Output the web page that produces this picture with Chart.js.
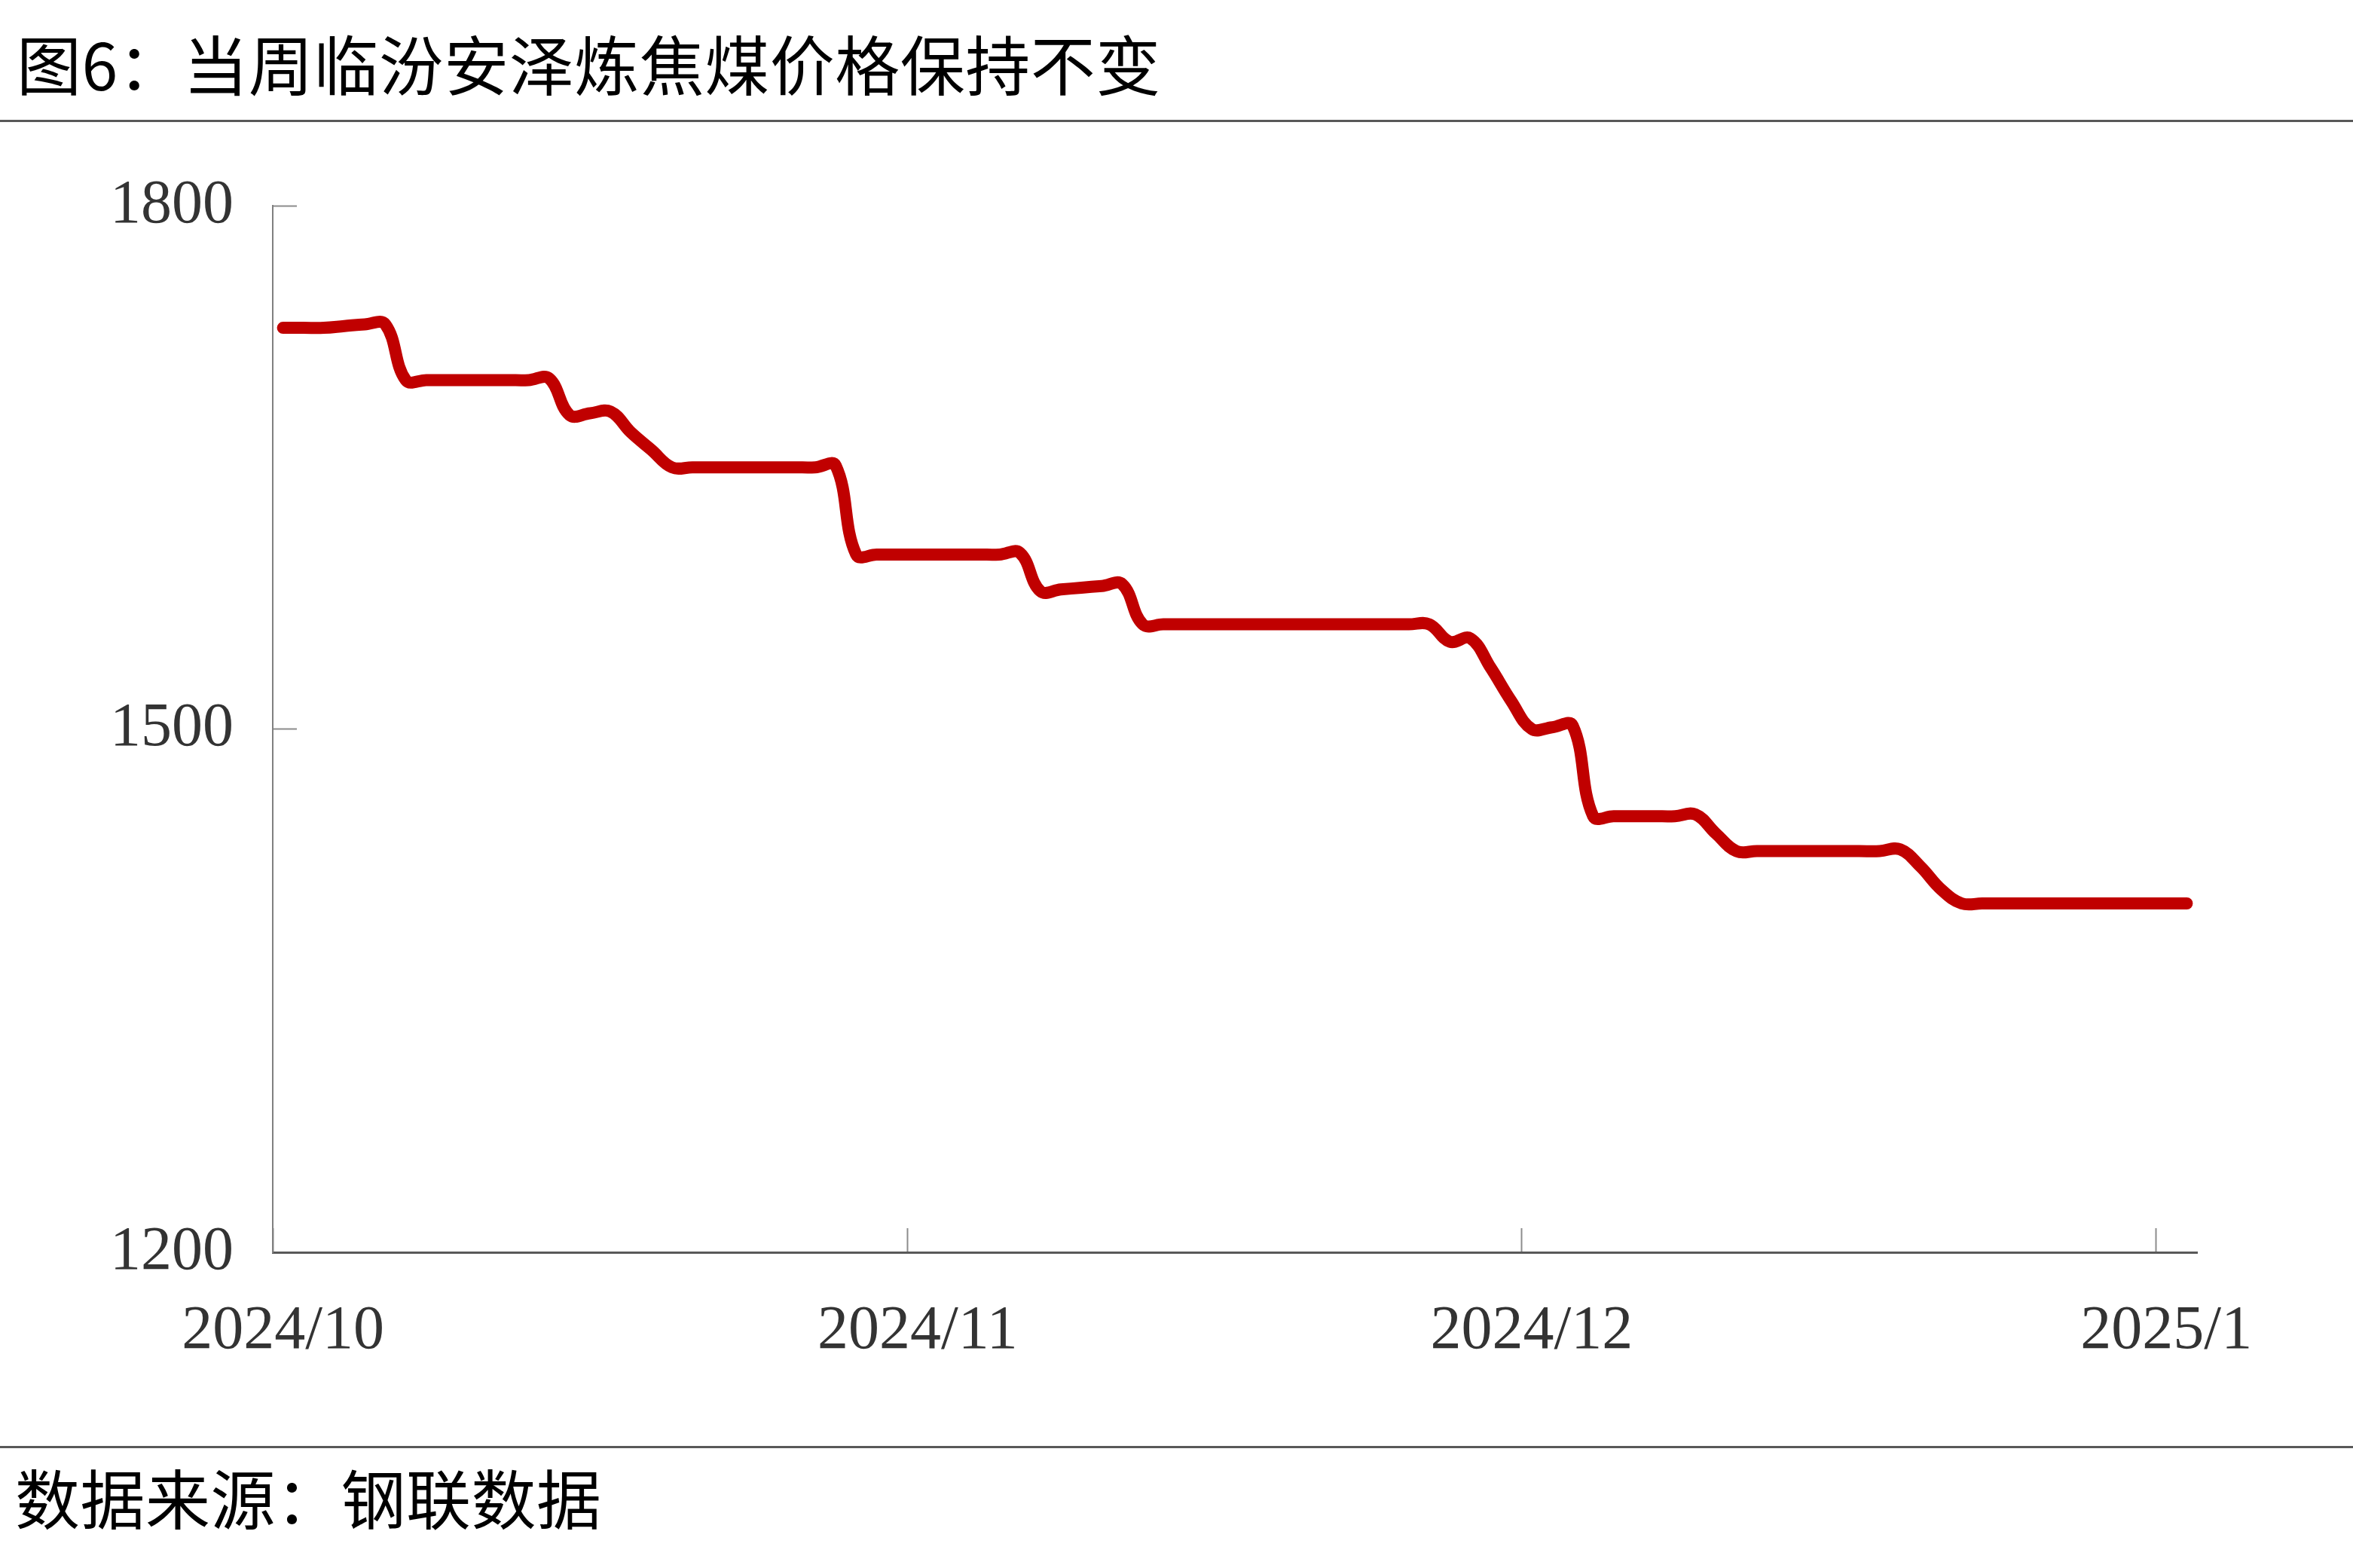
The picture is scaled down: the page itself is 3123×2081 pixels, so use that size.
<!DOCTYPE html>
<html lang="zh-CN">
<head>
<meta charset="utf-8">
<title>图6：当周临汾安泽炼焦煤价格保持不变</title>
<script src="https://cdn.jsdelivr.net/npm/chart.js@4.4.1/dist/chart.umd.min.js"></script>
<style>
  html, body { margin: 0; padding: 0; background: #fff; }
  body { width: 3123px; height: 2081px; position: relative; overflow: hidden; }
  .cjk { font-family: 'Noto Sans CJK SC', sans-serif; color: #000; white-space: nowrap; position: absolute; }
  #title  { left: 22px; top: 40px; font-size: 86px; line-height: 86px; letter-spacing: 0.5px; }
  #source { left: 20px; top: 1943px; font-size: 86px; line-height: 86px; letter-spacing: 0.5px; }
  .rule { position: absolute; left: 0; width: 3123px; height: 3px; background: #595959; }
  #wrap { position: absolute; left: 0; top: 0; width: 3123px; height: 2081px; }
</style>
</head>
<body>
<div id="title" class="cjk">图6：当周临汾安泽炼焦煤价格保持不变</div>
<div class="rule" style="top:159px"></div>
<div id="wrap"><canvas id="chart"></canvas></div>
<div class="rule" style="top:1919px"></div>
<div id="source" class="cjk">数据来源：钢联数据</div>

<script>
// ── DATA ──────────────────────────────────────────────────────────
// Daily price (元/吨), 2024/10/1 onwards
const prices = [
  1730, 1730, 1730, 1731, 1732, 1732,                 // 10/1 - 10/6
  1700, 1700, 1700, 1700, 1700, 1700, 1700, 1701,     // 10/7 - 10/14
  1680, 1681, 1682, 1670, 1660,                       // 10/15 - 10/19
  1650, 1650, 1650, 1650, 1650, 1650, 1650, 1650, 1651,
  1600, 1600, 1600, 1600, 1600, 1600, 1600, 1600, 1601,
  1579, 1580, 1581, 1582, 1583,
  1560, 1560, 1560, 1560, 1560, 1560, 1560, 1560,
  1560, 1560, 1560, 1560, 1560, 1560, 1560,
  1550, 1552, 1535, 1516,
  1500, 1501, 1502,                                   // 12/1 - 12/3
  1450, 1450, 1450, 1450, 1450, 1451,
  1440,
  1430, 1430, 1430, 1430, 1430, 1430, 1430, 1430, 1431,
  1421, 1408,
  1400, 1400, 1400, 1400, 1400, 1400, 1400, 1400, 1400, 1400, 1400, 1400
];

// one category per day, starting 2024/10/1
const dates = prices.map((_, i) => {
  const d = new Date(Date.UTC(2024, 9, 1 + i));
  return `${d.getUTCFullYear()}/${d.getUTCMonth() + 1}/${d.getUTCDate()}`;
});

const tickLabels = ['2024/10', '2024/11', '2024/12', '2025/1'];
const yTicks     = [1200, 1500, 1800];

// ── HELPERS ───────────────────────────────────────────────────────
const monthOf = s => s.split('/').slice(0, 2).join('/');
const isMonthStart = i => {
  const s = dates[i];
  return !!s && s.endsWith('/1') && tickLabels.includes(monthOf(s));
};

const serif    = "'Liberation Serif', 'Times New Roman', serif";
const tickGrey = '#8c8c8c';

// ── CHART ─────────────────────────────────────────────────────────
new Chart(document.getElementById('chart'), {
  type: 'line',
  data: {
    labels: dates,
    datasets: [{
      label:           '临汾安泽炼焦煤',
      data:            prices,
      borderColor:     '#C00000',
      borderWidth:     16,
      borderCapStyle:  'round',
      borderJoinStyle: 'round',
      pointRadius:     0,
      tension:         0.4,
      fill:            false,
    }],
  },
  options: {
    responsive:          true,
    maintainAspectRatio: false,
    animation:           false,
    events:              [],
    layout: { padding: { top: 273, right: 207, left: 0, bottom: 0 } },
    plugins: {
      legend:  { display: false },
      tooltip: { enabled: false },
    },
    scales: {
      x: {
        type:   'category',
        offset: true,
        grid: {
          offset:          true,
          drawOnChartArea: false,
          tickLength:      -32,
          tickWidth:       2,
          tickColor:       ctx => (ctx.index !== undefined && isMonthStart(ctx.index)) ? tickGrey : 'rgba(0,0,0,0)',
        },
        border: { color: '#595959', width: 3 },
        ticks: {
          autoSkip:    false,
          maxRotation: 0,
          padding:     88,
          color:       '#333',
          font:        { family: serif, size: 82 },
          callback:    (value, index) => isMonthStart(index) ? monthOf(dates[index]) : '',
        },
        afterFit: scale => { scale.height = 2081 - 1662; },
      },
      y: {
        min: yTicks[0],
        max: yTicks[yTicks.length - 1],
        afterBuildTicks: scale => { scale.ticks = yTicks.map(v => ({ value: v })); },
        grid: {
          drawOnChartArea: false,
          tickLength:      -32,
          tickWidth:       2,
          tickColor:       tickGrey,
        },
        border: { color: '#808080', width: 2 },
        ticks: {
          padding:  84,
          color:    '#333',
          font:     { family: serif, size: 82 },
          callback: v => String(v),
        },
        afterFit: scale => { scale.width = 362; },
      },
    },
  },
});
</script>
</body>
</html>
